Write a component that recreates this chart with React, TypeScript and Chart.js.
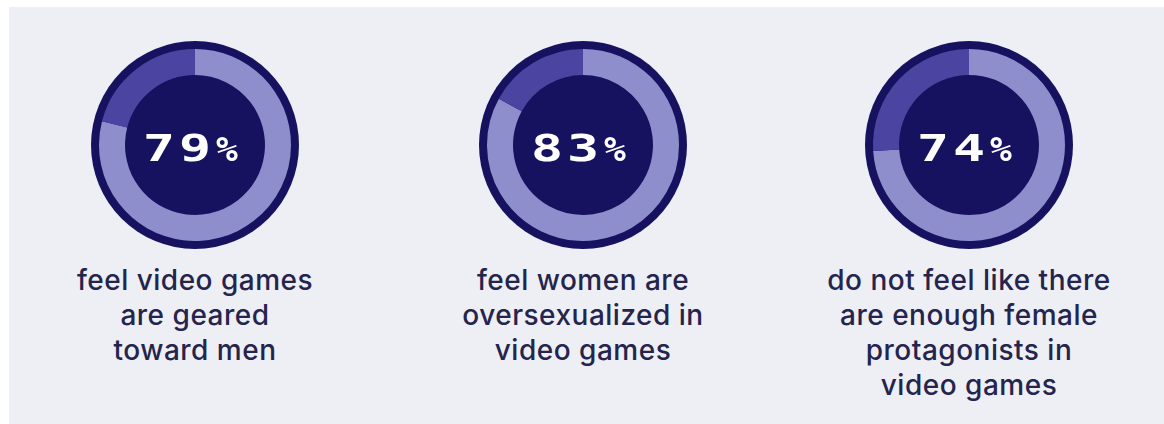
import React, { useEffect, useRef } from "react";
import { Chart, registerables } from "chart.js";

Chart.register(...registerables);

// ---- data ----
const percentages = [79, 83, 74];
const labelLines = [
  ["feel video games", "are geared", "toward men"],
  ["feel women are", "oversexualized in", "video games"],
  ["do not feel like there", "are enough female", "protagonists in", "video games"],
];
const centersX = [195, 583, 969];

// ---- style ----
const PANEL_BG = "#edeff5";
const NAVY = "#16125f";
const LIGHT = "#8e8ecd";
const MID = "#4b45a1";
const TEXT = "#25244d";
const CANVAS = 220;
const CENTER_Y = 145;
const PANEL_X = 9;
const PANEL_Y = 7;

const ringPlugin = {
  id: "ringDecor",
  beforeDatasetsDraw(chart: any) {
    const arc = chart.getDatasetMeta(0).data[0];
    if (!arc) return;
    const { x, y, outerRadius } = arc.getProps(["x", "y", "outerRadius"], true);
    const ctx = chart.ctx;
    ctx.save();
    ctx.beginPath();
    ctx.arc(x, y, outerRadius + 8, 0, Math.PI * 2);
    ctx.fillStyle = NAVY;
    ctx.fill();
    ctx.restore();
  },
  afterDatasetsDraw(chart: any) {
    const arc = chart.getDatasetMeta(0).data[0];
    if (!arc) return;
    const { x, y } = arc.getProps(["x", "y"], true);
    const pct = chart.data.datasets[0].data[0];
    const digits = String(pct).split("");
    const ctx = chart.ctx;
    ctx.save();
    ctx.fillStyle = "#ffffff";
    ctx.textAlign = "center";
    ctx.textBaseline = "alphabetic";
    const base = y + 16;
    const offsets = [-36, 0];
    digits.forEach((d: string, i: number) => {
      ctx.save();
      ctx.translate(x + offsets[i], base);
      ctx.scale(1.4, 1);
      ctx.font = "bold 38px 'DejaVu Sans Mono'";
      ctx.fillText(d, 0, 0);
      ctx.restore();
    });
    ctx.save();
    ctx.translate(x + 32, base);
    ctx.scale(1.1, 1);
    ctx.font = "bold 33px 'DejaVu Sans Mono'";
    ctx.fillText("%", 0, 0);
    ctx.restore();
    ctx.restore();
  },
};

function Donut({ pct }: { pct: number }) {
  const ref = useRef<HTMLCanvasElement>(null);
  useEffect(() => {
    if (!ref.current) return;
    const chart = new Chart(ref.current, {
      type: "doughnut",
      data: {
        labels: ["yes", "no"],
        datasets: [
          {
            data: [pct, 100 - pct],
            backgroundColor: [LIGHT, MID],
            borderWidth: 0,
          },
        ],
      },
      options: {
        responsive: false,
        animation: false,
        cutout: "72.9%",
        layout: { padding: 14 },
        events: [],
        plugins: { legend: { display: false }, tooltip: { enabled: false } },
      } as any,
      plugins: [ringPlugin],
    });
    return () => chart.destroy();
  }, [pct]);
  return (
    <canvas
      ref={ref}
      width={CANVAS}
      height={CANVAS}
      style={{ width: CANVAS, height: CANVAS, display: "block" }}
    />
  );
}

export default function App() {
  return (
    <div
      style={{
        position: "fixed",
        left: PANEL_X,
        top: PANEL_Y,
        width: 1164 - PANEL_X,
        height: 424 - PANEL_Y,
        background: PANEL_BG,
        overflow: "hidden",
      }}
    >
      {percentages.map((p, i) => (
        <div key={i}>
          <div
            style={{
              position: "absolute",
              left: centersX[i] - CANVAS / 2 - PANEL_X,
              top: CENTER_Y - CANVAS / 2 - PANEL_Y,
            }}
          >
            <Donut pct={p} />
          </div>
          <div
            style={{
              position: "absolute",
              left: centersX[i] - 170 - PANEL_X,
              width: 340,
              top: 263 - PANEL_Y,
              textAlign: "center",
              fontFamily: "Inter, Roboto, sans-serif",
              fontWeight: 500,
              fontSize: 28,
              letterSpacing: "0.5px",
              lineHeight: "35px",
              color: TEXT,
            }}
          >
            {labelLines[i].map((l, j) => (
              <div key={j}>{l}</div>
            ))}
          </div>
        </div>
      ))}
    </div>
  );
}
